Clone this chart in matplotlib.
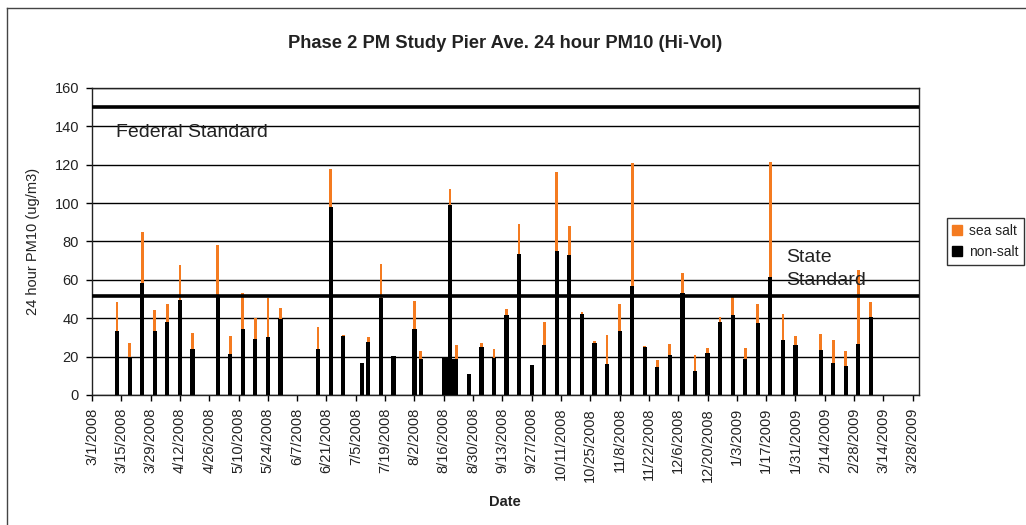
import matplotlib
matplotlib.use("Agg")
import matplotlib.pyplot as plt
import matplotlib.patches as mpatches
from matplotlib.lines import Line2D
import pandas as pd

# ---------------- data ----------------
sample_dates = [
    "3/13/2008", "3/19/2008", "3/25/2008", "3/31/2008", "4/6/2008", "4/12/2008",
    "4/18/2008", "4/30/2008", "5/6/2008", "5/12/2008", "5/18/2008", "5/24/2008",
    "5/30/2008", "6/17/2008", "6/23/2008", "6/29/2008", "7/8/2008", "7/11/2008",
    "7/17/2008", "7/23/2008", "8/2/2008", "8/5/2008", "8/16/2008", "8/17/2008",
    "8/18/2008", "8/19/2008", "8/20/2008", "8/21/2008", "8/22/2008", "8/28/2008",
    "9/3/2008", "9/9/2008", "9/15/2008", "9/21/2008", "9/27/2008", "10/3/2008",
    "10/9/2008", "10/15/2008", "10/21/2008", "10/27/2008", "11/2/2008", "11/8/2008",
    "11/14/2008", "11/20/2008", "11/26/2008", "12/2/2008", "12/8/2008", "12/14/2008",
    "12/20/2008", "12/26/2008", "1/1/2009", "1/7/2009", "1/13/2009", "1/19/2009",
    "1/25/2009", "1/31/2009", "2/12/2009", "2/18/2009", "2/24/2009", "3/2/2009",
    "3/8/2009",
]
non_salt = [
    33.6, 20.0, 58.6, 33.6, 37.9, 49.6,
    23.8, 51.5, 21.2, 34.4, 29.0, 30.4,
    39.8, 24.2, 97.9, 31.0, 16.5, 27.8,
    50.4, 20.5, 34.3, 18.8, 20.0, 20.0,
    20.0, 99.1, 19.0, 18.8, 18.8, 11.0,
    25.2, 19.5, 41.7, 73.6, 15.7, 25.9,
    75.3, 73.0, 42.1, 27.3, 16.0, 33.6,
    57.0, 25.2, 14.4, 20.9, 53.0, 12.7,
    21.7, 37.9, 41.7, 18.6, 37.7, 61.7,
    28.7, 25.9, 23.5, 16.5, 15.1, 26.6,
    40.9,
]
sea_salt = [
    15.1, 7.3, 26.6, 10.7, 9.4, 17.9,
    8.4, 26.5, 9.6, 18.6, 11.0, 20.4,
    5.8, 11.5, 19.8, 0.5, 0.0, 2.6,
    17.9, 0.0, 14.7, 4.2, 0.0, 0.0,
    0.0, 8.2, 0.0, 0.0, 7.3, 0.0,
    2.1, 4.3, 3.2, 15.4, 0.0, 12.4,
    40.7, 15.2, 1.4, 1.0, 15.3, 13.9,
    63.9, 0.3, 3.9, 5.7, 10.8, 8.2,
    2.6, 3.0, 9.3, 6.1, 9.6, 59.5,
    13.6, 4.9, 8.2, 12.2, 8.0, 38.6,
    7.8,
]
tick_labels = [
    "3/1/2008", "3/15/2008", "3/29/2008", "4/12/2008", "4/26/2008", "5/10/2008",
    "5/24/2008", "6/7/2008", "6/21/2008", "7/5/2008", "7/19/2008", "8/2/2008",
    "8/16/2008", "8/30/2008", "9/13/2008", "9/27/2008", "10/11/2008", "10/25/2008",
    "11/8/2008", "11/22/2008", "12/6/2008", "12/20/2008", "1/3/2009", "1/17/2009",
    "1/31/2009", "2/14/2009", "2/28/2009", "3/14/2009", "3/28/2009",
]
y_ticks = [0, 20, 40, 60, 80, 100, 120, 140, 160]
federal_standard = 150
state_standard = 51.5
x_start, x_end = "3/1/2008", "3/31/2009"

# ---------------- styling ----------------
plt.rcParams["font.family"] = ["Liberation Sans", "DejaVu Sans"]
ORANGE = "#F47B20"
TXT = "#222222"

W, H = 1026, 525
fig = plt.figure(figsize=(W / 100, H / 100), dpi=100)
fig.patch.set_facecolor("white")

left, right, top, bottom = 92, 919, 88, 395
ax = fig.add_axes([left / W, 1 - bottom / H, (right - left) / W, (bottom - top) / H])

dates = pd.to_datetime(sample_dates, format="%m/%d/%Y")
ax.bar(dates, non_salt, width=2.0, color="black", linewidth=0, zorder=3)
ax.bar(dates, sea_salt, width=1.3, bottom=non_salt, color=ORANGE, linewidth=0, zorder=3)

ax.set_xlim(pd.to_datetime(x_start, format="%m/%d/%Y"), pd.to_datetime(x_end, format="%m/%d/%Y"))
ax.set_ylim(0, 160)
ax.set_yticks(y_ticks)
ax.set_yticklabels([str(v) for v in y_ticks], fontsize=10.5, color=TXT)
ticks = pd.to_datetime(tick_labels, format="%m/%d/%Y")
ax.set_xticks(ticks)
ax.set_xticklabels(tick_labels, rotation=90, fontsize=10.5, color=TXT, va="top")
ax.tick_params(axis="both", direction="out", length=4.3, width=1, color="black", pad=5)

ax.yaxis.grid(True, color="black", linewidth=1, zorder=1)
ax.set_axisbelow(True)
for s in ax.spines.values():
    s.set_color("#222222")
    s.set_linewidth(1)

ax.axhline(federal_standard, color="black", linewidth=2.6, zorder=4)
ax.axhline(state_standard, color="black", linewidth=2.6, zorder=4)

ax.text(0.029, 0.855, "Federal Standard", transform=ax.transAxes, fontsize=14,
        color=TXT, ha="left", va="center", zorder=5)
ax.text(0.839, 0.41, "State\nStandard", transform=ax.transAxes, fontsize=14,
        color=TXT, ha="left", va="center", linespacing=1.45, zorder=5)

fig.text(505 / W, 1 - 43 / H, "Phase 2 PM Study Pier Ave. 24 hour PM10 (Hi-Vol)",
         ha="center", va="center", fontsize=13.2, fontweight="bold", color=TXT)
fig.text(33 / W, 1 - 241.5 / H, "24 hour PM10 (ug/m3)", rotation=90,
         ha="center", va="center", fontsize=10.5, color=TXT)
fig.text(505 / W, 1 - 502 / H, "Date", ha="center", va="center",
         fontsize=10.5, fontweight="bold", color=TXT)

handles = [mpatches.Patch(color=ORANGE, label="sea salt"),
           mpatches.Patch(color="black", label="non-salt")]
leg = fig.legend(handles=handles, loc="upper left",
                 bbox_to_anchor=(946.7 / W, 1 - 218 / H), fontsize=10,
                 frameon=True, fancybox=False, edgecolor="black",
                 handlelength=0.7, handleheight=0.7, handletextpad=0.5,
                 labelspacing=0.55, borderpad=0.4, borderaxespad=0)
leg.get_frame().set_linewidth(1)
for t in leg.get_texts():
    t.set_color(TXT)

# outer chart-area border (top and left visible)
fig.add_artist(Line2D([7 / W, 1.0], [1 - 8 / H, 1 - 8 / H], transform=fig.transFigure,
                      color="#444444", linewidth=1))
fig.add_artist(Line2D([7 / W, 7 / W], [0, 1 - 8 / H], transform=fig.transFigure,
                      color="#444444", linewidth=1))

fig.savefig("out.png", dpi=100)
